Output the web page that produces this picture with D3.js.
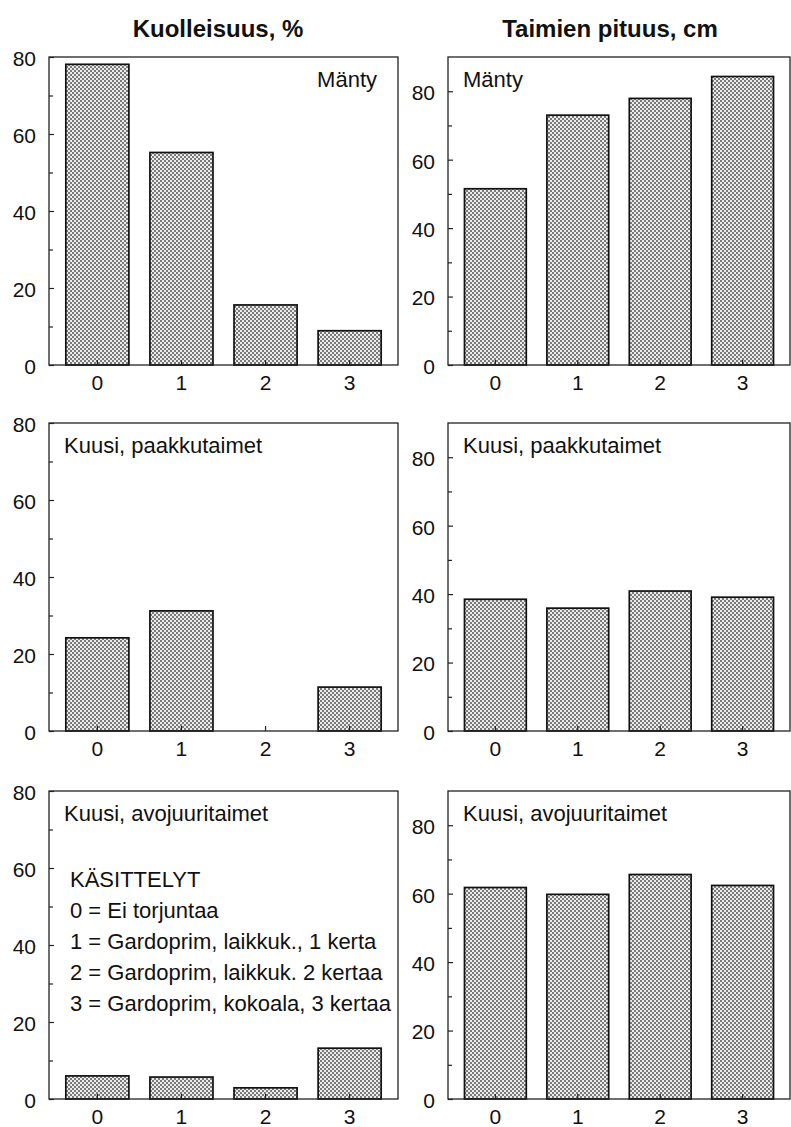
<!DOCTYPE html>
<html>
<head>
<meta charset="utf-8">
<script src="https://cdn.jsdelivr.net/npm/d3@7"></script>
<style>
  body { margin: 0; background: #fff; }
  svg text { font-family: "Liberation Sans", Arial, sans-serif; fill: #111; }
</style>
</head>
<body>
<div id="chart"></div>
<script>
// data
var categories = ["0", "1", "2", "3"];
var kuolManty  = [78.1, 55.2, 15.6, 8.9];
var kuolPaakku = [24.2, 31.2, 0, 11.4];
var kuolAvo    = [6.0, 5.7, 2.9, 13.2];
var pitManty   = [51.5, 73.0, 77.9, 84.3];
var pitPaakku  = [38.5, 35.9, 40.9, 39.1];
var pitAvo     = [61.8, 59.8, 65.6, 62.4];

var titles = ["Kuolleisuus, %", "Taimien pituus, cm"];
var groupLabels = ["Mänty", "Kuusi, paakkutaimet", "Kuusi, avojuuritaimet"];
var legendLines = ["KÄSITTELYT", "0 = Ei torjuntaa", "1 = Gardoprim, laikkuk., 1 kerta",
                   "2 = Gardoprim, laikkuk. 2 kertaa", "3 = Gardoprim, kokoala, 3 kertaa"];

var width = 791, height = 1127;
var svg = d3.select("#chart").append("svg")
            .attr("width", width)
            .attr("height", height);

// dotted grey fill like the printed screen
var pat = svg.append("defs").append("pattern")
             .attr("id", "dots")
             .attr("patternUnits", "userSpaceOnUse")
             .attr("width", 4).attr("height", 4);
pat.append("rect").attr("width", 4).attr("height", 4).attr("fill", "#ececec");
pat.append("rect").attr("width", 2).attr("height", 2).attr("fill", "#7a7a7a");
pat.append("rect").attr("x", 2).attr("y", 2).attr("width", 2).attr("height", 2).attr("fill", "#7a7a7a");

var cols = [[49, 398], [448, 790]];
var rows = [[57, 365], [423, 731], [791, 1099]];

function drawPanel(col, row, values, maxY, label, labelRight) {
    var x0 = cols[col][0], x1 = cols[col][1];
    var y0 = rows[row][0], y1 = rows[row][1];
    var g = svg.append("g");

    var x = d3.scaleBand()
              .domain(categories)
              .range([x0, x1])
              .paddingInner(0.25)
              .paddingOuter(0.2);
    var y = d3.scaleLinear()
              .domain([0, maxY])
              .range([y1, y0]);

    // bars (a zero value gets no bar)
    g.selectAll("rect.bar")
     .data(values.map(function(v, i) { return {c: categories[i], v: v}; })
                 .filter(function(d) { return d.v > 0; }))
     .enter()
     .append("rect")
     .attr("class", "bar")
     .attr("x", function(d) { return x(d.c); })
     .attr("y", function(d) { return y(d.v); })
     .attr("width", x.bandwidth())
     .attr("height", function(d) { return y1 - y(d.v); })
     .attr("fill", "url(#dots)")
     .attr("stroke", "#111")
     .attr("stroke-width", 1.7);

    // frame
    g.append("rect")
     .attr("x", x0).attr("y", y0)
     .attr("width", x1 - x0).attr("height", y1 - y0)
     .attr("fill", "none")
     .attr("stroke", "#222")
     .attr("stroke-width", 1.3);

    // y axis, ticks point inward
    var yAxis = g.append("g")
                 .attr("transform", "translate(" + x0 + ",0)")
                 .call(d3.axisLeft(y).tickValues([0, 20, 40, 60, 80])
                         .tickSize(-5).tickPadding(13));
    yAxis.select(".domain").remove();
    yAxis.selectAll("text").attr("font-size", 21).attr("dy", "0.4em");
    var yMinor = g.append("g")
                  .attr("transform", "translate(" + x0 + ",0)")
                  .call(d3.axisLeft(y).tickValues([10, 30, 50, 70])
                          .tickSize(-4).tickFormat(""));
    yMinor.select(".domain").remove();

    // x axis
    var xAxis = g.append("g")
                 .attr("transform", "translate(0," + y1 + ")")
                 .call(d3.axisBottom(x).tickSize(-5).tickPadding(10));
    xAxis.select(".domain").remove();
    xAxis.selectAll("text").attr("font-size", 21);

    g.selectAll(".tick line").attr("stroke", "#222").attr("stroke-width", 1.2);

    g.append("text")
     .attr("x", labelRight ? x1 - 21 : x0 + 15)
     .attr("y", y0 + 30)
     .attr("text-anchor", labelRight ? "end" : "start")
     .attr("font-size", 22)
     .text(label);
    return g;
}

drawPanel(0, 0, kuolManty, 80, groupLabels[0], true);
drawPanel(0, 1, kuolPaakku, 80, groupLabels[1], false);
var legendPanel = drawPanel(0, 2, kuolAvo, 80, groupLabels[2], false);
drawPanel(1, 0, pitManty, 90, groupLabels[0], false);
drawPanel(1, 1, pitPaakku, 90, groupLabels[1], false);
drawPanel(1, 2, pitAvo, 90, groupLabels[2], false);

// treatment legend
legendPanel.selectAll("text.legend")
   .data(legendLines)
   .enter()
   .append("text")
   .attr("class", "legend")
   .attr("x", 70)
   .attr("y", function(d, i) { return 887 + i * 31; })
   .attr("font-size", 22)
   .text(function(d) { return d; });

// column titles
svg.selectAll("text.title")
   .data(titles)
   .enter()
   .append("text")
   .attr("class", "title")
   .attr("x", function(d, i) { return i === 0 ? 218 : 610; })
   .attr("y", 37)
   .attr("text-anchor", "middle")
   .attr("font-size", 24)
   .attr("font-weight", "bold")
   .text(function(d) { return d; });
</script>
</body>
</html>
